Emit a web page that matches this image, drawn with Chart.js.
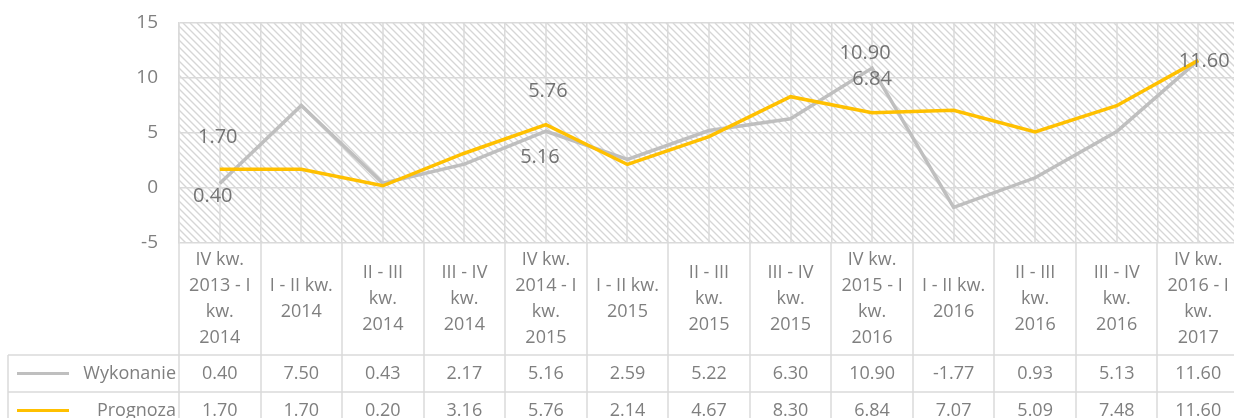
<!DOCTYPE html>
<html lang="pl">
<head>
<meta charset="utf-8">
<title>Wykonanie i prognoza</title>
<script src="https://cdn.jsdelivr.net/npm/chart.js@4.4.1/dist/chart.umd.min.js"></script>
<style>
  html, body { margin: 0; padding: 0; background: #fff; overflow: hidden; }
  #wrap { position: relative; width: 1240px; height: 418px; }
</style>
</head>
<body>
<div id="wrap"><canvas id="chart"></canvas></div>
<script>
const categories = [
  ["IV kw.", "2013 - I", "kw.", "2014"],
  ["I - II kw.", "2014"],
  ["II - III", "kw.", "2014"],
  ["III - IV", "kw.", "2014"],
  ["IV kw.", "2014 - I", "kw.", "2015"],
  ["I - II kw.", "2015"],
  ["II - III", "kw.", "2015"],
  ["III - IV", "kw.", "2015"],
  ["IV kw.", "2015 - I", "kw.", "2016"],
  ["I - II kw.", "2016"],
  ["II - III", "kw.", "2016"],
  ["III - IV", "kw.", "2016"],
  ["IV kw.", "2016 - I", "kw.", "2017"],
];

const wykonanie = [0.40, 7.50, 0.43, 2.17, 5.16, 2.59, 5.22, 6.30, 10.90, -1.77, 0.93, 5.13, 11.60];
const prognoza = [1.70, 1.70, 0.20, 3.16, 5.76, 2.14, 4.67, 8.30, 6.84, 7.07, 5.09, 7.48, 11.60];

const yTicks = [-5, 0, 5, 10, 15];

// points that carry a value label
const wykonanieLabelIdx = [0, 4, 8, 12];
const prognozaLabelIdx = [0, 4, 8];

const FONT = "'Open Sans', 'DejaVu Sans', sans-serif";
const TEXT = "#7f7f7f";
const GRID = "#dadada";
const GRAY = "#bfbfbf";
const GOLD = "#ffc000";

/* =========================
   HATCHED PLOT BACKGROUND
========================= */
const hatchPlugin = {
  id: "hatch",
  beforeDraw(chart) {
    const { ctx, chartArea: a } = chart;
    const h = a.bottom - a.top;
    ctx.save();
    ctx.beginPath();
    ctx.rect(a.left, a.top, a.right - a.left, h);
    ctx.clip();
    ctx.strokeStyle = "#d6d6d6";
    ctx.lineWidth = 1.4;
    ctx.beginPath();
    for (let x = a.left - h; x < a.right; x += 7) {
      ctx.moveTo(x, a.top);
      ctx.lineTo(x + h, a.bottom);
    }
    ctx.stroke();
    ctx.restore();
  },
  // minor vertical lines through each category
  beforeDatasetsDraw(chart) {
    const { ctx, chartArea: a, scales } = chart;
    ctx.save();
    ctx.strokeStyle = GRID;
    ctx.lineWidth = 1.5;
    ctx.beginPath();
    categories.forEach((c, i) => {
      const x = Math.round(scales.x.getPixelForValue(i));
      ctx.moveTo(x, a.top);
      ctx.lineTo(x, a.bottom);
    });
    ctx.stroke();
    ctx.restore();
  },
};

/* =========================
   VALUE LABELS
========================= */
const valueLabelPlugin = {
  id: "valueLabels",
  afterDatasetsDraw(chart, args, opts) {
    const { ctx } = chart;
    ctx.save();
    ctx.font = `20px ${FONT}`;
    ctx.fillStyle = "#737373";
    ctx.textAlign = "center";
    ctx.textBaseline = "middle";
    opts.series.forEach((s) => {
      const meta = chart.getDatasetMeta(s.dataset);
      const values = chart.data.datasets[s.dataset].data;
      s.indices.forEach((i, k) => {
        const pt = meta.data[i];
        const [dx, dy] = s.offsets[k];
        ctx.fillText(values[i].toFixed(2), pt.x + dx, pt.y + dy);
      });
    });
    ctx.restore();
  },
};

/* =========================
   DATA TABLE UNDER THE AXIS
========================= */
const tablePlugin = {
  id: "dataTable",
  afterDraw(chart) {
    const { ctx, chartArea: a, scales } = chart;
    const xs = scales.x;
    const colW = xs.getPixelForValue(1) - xs.getPixelForValue(0);
    const top = a.bottom;
    const headBottom = top + 112;
    const rowH = 37;
    const tableLeft = 8;
    const bottom = headBottom + rowH * 2;

    ctx.save();
    ctx.strokeStyle = GRID;
    ctx.lineWidth = 1.5;
    ctx.beginPath();
    // horizontal rules
    [headBottom, headBottom + rowH, bottom].forEach((y) => {
      ctx.moveTo(tableLeft, y);
      ctx.lineTo(a.right, y);
    });
    ctx.moveTo(tableLeft, headBottom);
    ctx.lineTo(tableLeft, bottom);
    // column rules
    for (let i = 0; i <= categories.length; i++) {
      const x = Math.round(xs.getPixelForValue(i) - colW / 2);
      ctx.moveTo(x, top);
      ctx.lineTo(x, bottom);
    }
    ctx.stroke();

    ctx.fillStyle = TEXT;
    ctx.textAlign = "center";
    ctx.textBaseline = "middle";

    // category headers
    ctx.font = `18px ${FONT}`;
    const lineH = 26;
    const mid = (top + headBottom) / 2;
    categories.forEach((lines, i) => {
      const cx = xs.getPixelForValue(i);
      const y0 = mid - ((lines.length - 1) * lineH) / 2;
      lines.forEach((t, j) => ctx.fillText(t, cx, y0 + j * lineH));
    });

    // value rows with legend keys
    const rows = chart.data.datasets;
    rows.forEach((ds, r) => {
      const cy = headBottom + rowH * r + rowH / 2;
      ctx.font = `18px ${FONT}`;
      ds.data.forEach((v, i) => {
        ctx.fillText(v.toFixed(2), xs.getPixelForValue(i), cy);
      });

      ctx.strokeStyle = ds.borderColor;
      ctx.lineWidth = 3;
      ctx.beginPath();
      ctx.moveTo(17, cy);
      ctx.lineTo(69, cy);
      ctx.stroke();

      ctx.textAlign = "right";
      ctx.fillText(ds.label, a.left - 3, cy);
      ctx.textAlign = "center";
    });
    ctx.restore();
  },
};

/* =========================
   CHART
========================= */
const chart = new Chart(document.getElementById("chart"), {
  type: "line",
  data: {
    labels: categories,
    datasets: [
      {
        label: "Wykonanie",
        data: wykonanie,
        borderColor: GRAY,
        borderWidth: 3.5,
        pointRadius: 0,
        tension: 0,
        order: 1,
      },
      {
        label: "Prognoza",
        data: prognoza,
        borderColor: GOLD,
        borderWidth: 3.5,
        pointRadius: 0,
        tension: 0,
        order: 0,
      },
    ],
  },
  options: {
    responsive: true,
    maintainAspectRatio: false,
    animation: false,
    layout: { padding: { top: 23, bottom: 175, left: 0, right: 1 } },
    plugins: {
      legend: { display: false },
      tooltip: { enabled: false },
      valueLabels: {
        series: [
          { dataset: 0, indices: wykonanieLabelIdx, offsets: [[-7, 13], [-6, 26], [-7, -15], [6, 1]] },
          { dataset: 1, indices: prognozaLabelIdx, offsets: [[-2, -32], [2, -33], [0, -33]] },
        ],
      },
    },
    scales: {
      x: {
        offset: true,
        ticks: { display: false },
        grid: { offset: true, color: GRID, lineWidth: 1.5, drawTicks: false },
        border: { display: false },
      },
      y: {
        min: yTicks[0],
        max: yTicks[yTicks.length - 1],
        afterFit: (s) => {
          s.width = 179;
          s.paddingTop = 0;
          s.paddingBottom = 0;
        },
        ticks: {
          stepSize: yTicks[1] - yTicks[0],
          padding: 21,
          color: TEXT,
          font: { family: FONT, size: 19 },
        },
        grid: { color: GRID, lineWidth: 1.5, drawTicks: false },
        border: { color: GRID, width: 1.5 },
      },
    },
  },
  plugins: [hatchPlugin, valueLabelPlugin, tablePlugin],
});
</script>
</body>
</html>
